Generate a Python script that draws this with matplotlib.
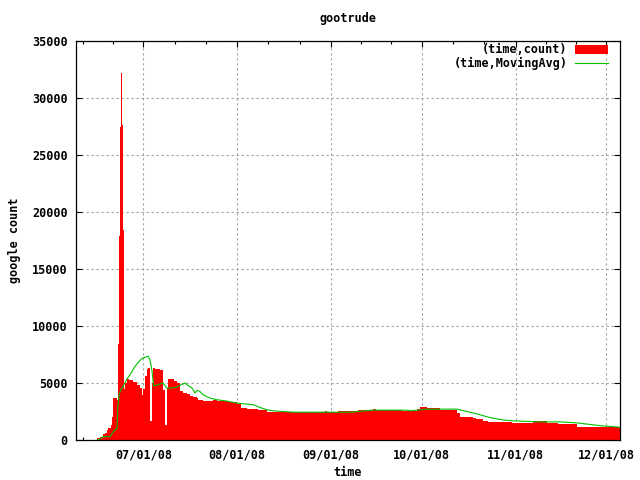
import datetime as dt
import numpy as np
import matplotlib
matplotlib.use('Agg')
import matplotlib.pyplot as plt
import matplotlib.dates as mdates
from matplotlib.patches import Patch
from matplotlib.lines import Line2D

# Data: days relative to 2008-07-01
base_date = dt.datetime(2008, 7, 1)

count_days = [-15.2, -14.3, -13.4, -12.7, -12.1, -11.6, -10.8, -10.3, -9.9, -9.4,
              -8.8, -8.5, -8.1, -7.8, -7.5, -7.1, -6.8, -6.5, -6.3, -5.9,
              -5.5, -4.6, -3.4, -2.1, -1.1, -0.5, 0.0, 0.6, 1.1, 1.7,
              2.2, 2.8, 3.3, 3.9, 5.5, 6.6, 7.2, 7.7, 8.3, 10.2,
              11.0, 12.1, 13.2, 14.3, 15.4, 16.5, 17.6, 18.2, 19.8, 23.1,
              24.3, 28.1, 30.9, 32.2, 34.2, 38.0, 40.8, 49.0, 60.0, 60.6,
              64.4, 71.0, 76.0, 76.8, 85.4, 90.4, 91.4, 93.7, 95.1, 98.0,
              103.6, 104.7, 106.9, 109.0, 110.0, 112.2, 114.0, 121.7, 128.9, 133.3,
              137.1, 143.2, 150.9, 157.5]
count_values = [150, 290, 500, 640, 880, 1060, 1320, 2050, 3680, 3700,
                3530, 8380, 17930, 27490, 32200, 27640, 18430, 9260, 4500, 5000,
                5380, 5230, 5100, 4800, 4600, 3970, 4450, 5580, 6230, 6300,
                1700, 5000, 6350, 6200, 6100, 4400, 1320, 4550, 5350, 5200,
                5000, 4260, 4120, 4050, 3900, 3760, 3650, 3530, 3440, 3530,
                3440, 3290, 3180, 2800, 2710, 2650, 2500, 2440, 2550, 2440,
                2560, 2650, 2740, 2650, 2530, 2740, 2910, 2790, 2820, 2650,
                2350, 2060, 2000, 1940, 1820, 1680, 1620, 1530, 1680, 1530,
                1380, 1170, 1120, 1120]

avg_days = [-15.2, -14.3, -13.3, -11.0, -10.3, -9.4, -8.7, -8.4, -8.0, -7.4,
            -6.4, -5.4, -4.4, -2.7, -1.1, -0.1, 1.6, 2.2, 2.9, 3.4,
            4.9, 6.5, 7.8, 9.8, 11.5, 12.5, 13.9, 14.4, 16.1, 17.1,
            17.7, 18.7, 19.7, 22.0, 24.4, 27.7, 31.0, 34.3, 36.3, 38.6,
            40.9, 42.9, 49.5, 69.0, 71.6, 75.9, 87.1, 88.1, 93.7, 103.6,
            106.9, 110.2, 114.5, 118.8, 122.1, 131.1, 137.7, 143.3, 150.9, 157.5]
avg_values = [0, 90, 290, 290, 590, 880, 970, 2940, 3970, 4410,
              4850, 5350, 5730, 6470, 6990, 7200, 7350, 7060, 6000, 4750,
              4850, 5000, 4560, 4560, 4700, 4850, 5000, 4850, 4560, 4120,
              4350, 4260, 3970, 3680, 3530, 3410, 3230, 3150, 3100, 2850,
              2650, 2560, 2440, 2440, 2520, 2620, 2620, 2560, 2700, 2710,
              2500, 2290, 1970, 1760, 1680, 1590, 1590, 1500, 1260, 1120]

month_ticks = ['2008-06-01', '2008-07-01', '2008-08-01', '2008-09-01',
               '2008-10-01', '2008-11-01', '2008-12-01', '2009-01-01']
y_ticks = [0, 5000, 10000, 15000, 20000, 25000, 30000, 35000]

RED = '#ff0000'
GREEN = '#00c000'
FONT = {'family': 'DejaVu Sans Mono', 'weight': 'bold', 'size': 8.5}


def main():
    b = mdates.date2num(base_date)
    cx = b + np.array(count_days)
    ax_ = b + np.array(avg_days)

    fig = plt.figure(figsize=(6.4, 4.8), dpi=100)
    ax = fig.add_axes([76 / 640, 40 / 480, 544 / 640, 399 / 480])

    ax.fill_between(cx, count_values, step='post', color=RED, linewidth=0, zorder=2)
    ax.plot(ax_, avg_values, color=GREEN, linewidth=0.8, zorder=3)

    # ticks
    months = [mdates.date2num(dt.datetime.strptime(m, '%Y-%m-%d')) for m in month_ticks]
    ax.set_xticks(months[1:-1])
    minors = []
    for m0, m1 in zip(months[:-1], months[1:]):
        minors += [m0 + (m1 - m0) / 3, m0 + 2 * (m1 - m0) / 3]
    ax.set_xticks(minors, minor=True)
    ax.xaxis.set_major_formatter(mdates.DateFormatter('%m/%d/%y'))
    ax.set_yticks(y_ticks)

    # limits after ticks so the tick lists don't widen the view
    ax.set_xlim(b - 22.24, b + 157.5)
    ax.set_ylim(0, 35000)

    ax.tick_params(which='both', direction='in', top=True, right=True, width=0.8)
    ax.tick_params(which='major', length=4, pad=6)
    ax.tick_params(which='minor', length=2.5)
    for lab in ax.get_xticklabels() + ax.get_yticklabels():
        lab.set_fontproperties(FONT)

    ax.grid(True, which='major', color='#a0a0a0', linestyle=(0, (2, 2.5)), linewidth=0.8, zorder=1)
    ax.set_axisbelow(True)
    for s in ax.spines.values():
        s.set_linewidth(0.9)

    ax.set_title('gootrude', fontdict=FONT, pad=14)
    ax.set_xlabel('time', fontdict=FONT, labelpad=3.5)
    ax.set_ylabel('google count', fontdict=FONT, labelpad=8)

    handles = [Patch(facecolor=RED, edgecolor='none'),
               Line2D([], [], color=GREEN, linewidth=0.8)]
    ax.legend(handles, ['(time,count)', '(time,MovingAvg)'], loc='upper right',
              bbox_to_anchor=(0.982, 1.0), frameon=False, markerfirst=False, prop=FONT,
              handlelength=2.8, handleheight=0.8, borderaxespad=0.0, borderpad=0.2,
              labelspacing=0.05, handletextpad=0.6)

    fig.savefig('out.png', dpi=100)


if __name__ == "__main__":
    main()
